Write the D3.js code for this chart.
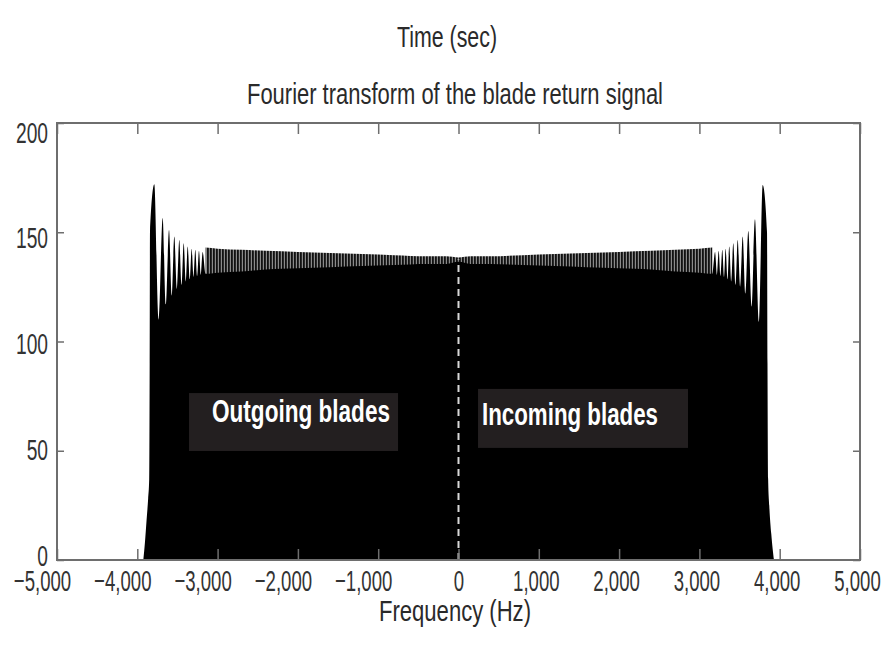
<!DOCTYPE html>
<html>
<head>
<meta charset="utf-8">
<script src="https://cdn.jsdelivr.net/npm/d3@7"></script>
<style>
  html, body { margin: 0; padding: 0; background: #fff; }
  svg { display: block; }
  text { font-family: "Liberation Sans", Arial, sans-serif; }
</style>
</head>
<body>
<svg id="chart" width="887" height="660"></svg>
<script>
// ---- axis ticks ----
const xTicks = [-5000, -4000, -3000, -2000, -1000, 0, 1000, 2000, 3000, 4000, 5000];
const yTicks = [0, 50, 100, 150, 200];

// ---- spectrum: steep roll-off at the band edges (Hz, magnitude) ----
const leftEdgeFreq = [-3925, -3905, -3885, -3865, -3852, -3846, -3842];
const leftEdgeMag  = [0, 8, 18, 28, 37, 90, 150];
const rightEdgeFreq = [3842, 3848, 3856, 3870, 3895, 3929];
const rightEdgeMag  = [150, 90, 37, 25, 12, 0];

// resolved spikes close to the band edges
const leftSpikeFreq = [-3788, -3684, -3605, -3539, -3477, -3422, -3372, -3323, -3278, -3232, -3186];
const leftSpikeMag  = [172, 156.5, 151, 148, 146.5, 145, 143.5, 142.5, 142, 141.5, 141];
const rightSpikeFreq = [3195, 3240, 3285, 3327, 3372, 3422, 3477, 3539, 3609, 3692, 3788];
const rightSpikeMag  = [141, 141.5, 142, 142.5, 143.5, 145, 146.5, 148, 150.6, 156, 171.6];

// troughs between the spikes
const leftTroughFreq = [-3736, -3645, -3572, -3508, -3450, -3397, -3347, -3300, -3255, -3209];
const leftTroughMag  = [110, 117, 121, 124, 126, 127.5, 128.5, 129.5, 130, 130.5];
const rightTroughFreq = [3218, 3262, 3306, 3350, 3397, 3450, 3508, 3572, 3650, 3740];
const rightTroughMag  = [130.5, 130, 129.5, 128.5, 127.5, 126, 125, 122, 116, 109];

// dense ripple across the plateau: lower (solid) and upper envelope
const midFreq  = [-3150, -3000, -2700, -2400, -2000, -1600, -1200, -800, -400, -150, 0, 150, 400, 800, 1200, 1600, 2000, 2400, 2700, 3000, 3160];
const midFloor = [131, 131.5, 132, 133, 133.5, 134, 134.5, 135, 135.5, 135.5, 136.5, 135.5, 135.5, 135, 134.5, 134, 133.5, 133, 132, 131.5, 131];
const midTop   = [143, 142.5, 142, 141.5, 141, 140.5, 140, 139.5, 139, 139, 138.5, 139, 139, 139.5, 140, 140.5, 141, 141.5, 142, 142.5, 143];

// ---- labels ----
const titleTop = "Time (sec)";
const titleMain = "Fourier transform of the blade return signal";
const xTitle = "Frequency (Hz)";
const regionLabels = ["Outgoing blades", "Incoming blades"];

const svg = d3.select("#chart");
const x = d3.scaleLinear().domain([-5000, 5000]).range([57, 860]);
const y = d3.scaleLinear().domain([0, 200]).range([560, 123]);

const pts = (fs, ms) => fs.map((f, i) => [f, ms[i]]);

// full magnitude trace: edges, alternating spikes/troughs, plateau floor
const trace = [].concat(
  pts(leftEdgeFreq, leftEdgeMag),
  pts(leftSpikeFreq, leftSpikeMag),
  pts(leftTroughFreq, leftTroughMag),
  pts(midFreq, midFloor),
  pts(rightTroughFreq, rightTroughMag),
  pts(rightSpikeFreq, rightSpikeMag),
  pts(rightEdgeFreq, rightEdgeMag)
).sort((a, b) => a[0] - b[0]);

const defs = svg.append("defs");
const pat = defs.append("pattern")
  .attr("id", "ripple").attr("patternUnits", "userSpaceOnUse")
  .attr("width", 3).attr("height", 10);
pat.append("rect").attr("x", 0).attr("y", 0).attr("width", 3).attr("height", 10).attr("fill", "#8a8a8a");
pat.append("rect").attr("x", 0).attr("y", 0).attr("width", 1.8).attr("height", 10).attr("fill", "#111");

const spec = svg.append("g");

// fringe of unresolved ripple above the solid plateau
spec.append("path")
  .datum(midFreq.map((f, i) => ({ f, lo: midFloor[i] - 1, hi: midTop[i] })))
  .attr("fill", "url(#ripple)")
  .attr("d", d3.area().x(d => x(d.f)).y0(d => y(d.lo)).y1(d => y(d.hi)).curve(d3.curveMonotoneX));

spec.append("path")
  .datum(trace)
  .attr("fill", "#000")
  .attr("d", d3.area().x(d => x(d[0])).y0(y(0)).y1(d => y(d[1])).curve(d3.curveMonotoneX));

// zero-frequency marker
svg.append("line")
  .attr("x1", x(0)).attr("x2", x(0))
  .attr("y1", y(0)).attr("y2", y(137.5))
  .attr("stroke", "#d8d8d8").attr("stroke-width", 2)
  .attr("stroke-dasharray", "7,5");

// region label boxes (placed in data space)
const boxes = [
  { f0: -3356, f1: -753, m0: 76.4, m1: 49.9, tx: 212, ty: 422, tl: 178 },
  { f0: 243, f1: 2858, m0: 78.3, m1: 51.3, tx: 482, ty: 425, tl: 176 }
];
boxes.forEach((b, i) => {
  const bx = x(b.f0), by = y(b.m0);
  svg.append("rect")
    .attr("x", bx).attr("y", by)
    .attr("width", x(b.f1) - bx).attr("height", y(b.m1) - by)
    .attr("fill", "#231f20");
  svg.append("text")
    .attr("x", b.tx).attr("y", b.ty)
    .attr("font-size", 31).attr("font-weight", "bold").attr("fill", "#fff")
    .attr("textLength", b.tl).attr("lengthAdjust", "spacingAndGlyphs")
    .text(regionLabels[i]);
});

// frame
svg.append("rect")
  .attr("x", 57).attr("y", 123).attr("width", 803).attr("height", 437)
  .attr("fill", "none").attr("stroke", "#6e6e6e").attr("stroke-width", 2);

const fmt = d3.format(",");
const tickColor = "#6e6e6e", labelColor = "#333";

// bottom axis (ticks inside), condensed labels
const gx = svg.append("g").attr("transform", `translate(0,${y(0)})`)
  .call(d3.axisBottom(x).tickValues(xTicks).tickSize(-11).tickSizeOuter(0).tickFormat(fmt));
gx.select(".domain").remove();
gx.selectAll(".tick line").attr("stroke", tickColor).attr("stroke-width", 1.5);
gx.selectAll(".tick text")
  .attr("x", 0).attr("y", 0).attr("dy", null)
  .attr("fill", labelColor).attr("font-size", 30)
  .attr("font-family", "Liberation Sans, Arial, sans-serif")
  .attr("transform", d => `translate(${d < 0 ? -15 : (d > 0 ? -3 : 0)},31) scale(0.62,1)`);

// top axis ticks
const gxt = svg.append("g").attr("transform", `translate(0,${y(200)})`)
  .call(d3.axisTop(x).tickValues(xTicks).tickSize(-11).tickSizeOuter(0).tickFormat(""));
gxt.select(".domain").remove();
gxt.selectAll(".tick line").attr("stroke", tickColor).attr("stroke-width", 1.5);

// left axis: labels sit slightly below their tick at the top, slightly above at the bottom
const gy = svg.append("g").attr("transform", `translate(${x(-5000)},0)`)
  .call(d3.axisLeft(y).tickValues(yTicks).tickSize(-7).tickSizeOuter(0));
gy.select(".domain").remove();
gy.selectAll(".tick line").attr("stroke", tickColor).attr("stroke-width", 1.5);
gy.selectAll(".tick text")
  .attr("x", 0).attr("y", 0).attr("dy", null)
  .attr("fill", labelColor).attr("font-size", 30)
  .attr("font-family", "Liberation Sans, Arial, sans-serif")
  .attr("text-anchor", "end")
  .attr("transform", d => `translate(-9,${5 + 14 * d / 200}) scale(0.64,1)`);

// right axis ticks
const gyr = svg.append("g").attr("transform", `translate(${x(5000)},0)`)
  .call(d3.axisRight(y).tickValues(yTicks).tickSize(-7).tickSizeOuter(0).tickFormat(""));
gyr.select(".domain").remove();
gyr.selectAll(".tick line").attr("stroke", tickColor).attr("stroke-width", 1.5);

// titles
svg.append("text").attr("x", 447).attr("y", 47).attr("text-anchor", "middle")
  .attr("font-size", 29).attr("fill", "#2a2a2a")
  .attr("textLength", 100).attr("lengthAdjust", "spacingAndGlyphs")
  .text(titleTop);
svg.append("text").attr("x", 455).attr("y", 104).attr("text-anchor", "middle")
  .attr("font-size", 29).attr("fill", "#2a2a2a")
  .attr("textLength", 416).attr("lengthAdjust", "spacingAndGlyphs")
  .text(titleMain);
svg.append("text").attr("x", 455).attr("y", 621).attr("text-anchor", "middle")
  .attr("font-size", 29).attr("fill", "#2a2a2a")
  .attr("textLength", 152).attr("lengthAdjust", "spacingAndGlyphs")
  .text(xTitle);
</script>
</body>
</html>
